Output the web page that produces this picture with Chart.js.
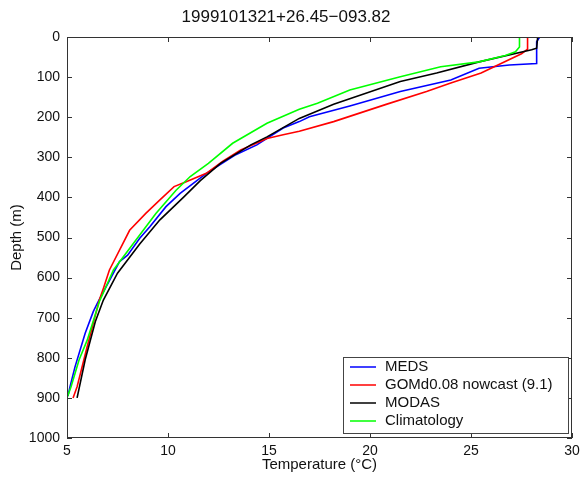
<!DOCTYPE html>
<html>
<head>
<meta charset="utf-8">
<script src="https://cdn.jsdelivr.net/npm/chart.js@4.4.1/dist/chart.umd.min.js"></script>
<style>
  html, body { margin: 0; padding: 0; background: #fff; }
  canvas { display: block; }
</style>
</head>
<body>
<canvas id="c" width="585" height="481"></canvas>
<script>
// ---- Data (temperature °C vs depth m) ----
const chartTitle = '1999101321+26.45\u2212093.82';
const seriesNames = ['MEDS', 'GOMd0.08 nowcast (9.1)', 'MODAS', 'Climatology'];
const seriesColors = ['#0000ff', '#ff0000', '#000000', '#00ff00'];

const medsTemp  = [28.4, 28.25, 28.25, 26.9, 25.4, 24.0, 21.5, 19.0, 17.0, 16.5, 15.7, 14.4, 13.3, 11.9, 10.6, 9.9, 9.1, 8.6, 8.0, 7.6, 6.5, 6.3, 5.9, 5.4, 5.15, 5.05];
const medsDepth = [0,    12,    66,    70,   78,   107,  136,  172,  199,  211,  227,  269,  295,  340,  390,  423, 473, 502, 544, 560, 664, 685, 739, 822, 872,  895];

const gomTemp  = [27.8, 27.8, 27.5, 25.5, 24.0, 22.8, 20.8, 18.2, 16.5, 15.7, 14.9, 13.6, 12.7, 11.9, 10.9, 10.3, 9.6, 8.9, 8.1, 7.1, 6.8, 6.6, 6.0, 5.5, 5.3];
const gomDepth = [0,    30,   42,   90,   115,  136,  168,  211,  235,  244,  253,  282,  310,  340,  361,  373,  406, 440, 482, 581, 627, 656, 772, 872, 900];

const modasTemp  = [28.3, 28.25, 28.0, 25.4, 23.3, 21.5, 18.2, 16.5, 14.9, 14.1, 12.6, 11.6, 10.8, 9.6, 8.6, 7.5, 6.8, 6.4, 5.9, 5.5];
const modasDepth = [0,    28,    32,   62,   90,   111,  168,  203,  249,  269,  315,  358,  398,  456, 516, 589, 656, 710, 805, 900];

const climTemp  = [27.4, 27.4, 27.2, 26.7, 25.4, 23.5, 21.5, 19.0, 17.4, 16.5, 14.9, 13.2, 12.0, 11.1, 10.4, 9.4, 8.6, 7.3, 6.6, 6.0, 5.6, 5.2, 5.0];
const climDepth = [0,    25,   37,   46,   62,   74,   99,   132,  165,  180,  215,  265,  315,  348,  382,  440, 494, 581, 660, 756, 805, 872, 900];

const xTicks = [5, 10, 15, 20, 25, 30];
const yTicks = [0, 100, 200, 300, 400, 500, 600, 700, 800, 900, 1000];
const xLabel = 'Temperature (\u00B0C)';
const yLabel = 'Depth (m)';

function toPoints(t, d) { return t.map((v, i) => ({ x: v, y: d[i] })); }
const allTemps = [medsTemp, gomTemp, modasTemp, climTemp];
const allDepths = [medsDepth, gomDepth, modasDepth, climDepth];

const FONT = "'Liberation Sans', Arial, Helvetica, sans-serif";

const boxPlugin = {
  id: 'matlabBox',
  afterDatasetsDraw(chart) {
    const { ctx, chartArea: a, scales: { x, y } } = chart;
    ctx.save();
    ctx.strokeStyle = '#333';
    ctx.lineWidth = 1;
    ctx.strokeRect(Math.round(a.left) + 0.5, Math.round(a.top) + 0.5,
                   Math.round(a.right - a.left) - 1, Math.round(a.bottom - a.top) - 1);
    const tl = 5;
    ctx.beginPath();
    xTicks.forEach(v => {
      const px = Math.round(x.getPixelForValue(v)) + 0.5;
      ctx.moveTo(px, a.bottom); ctx.lineTo(px, a.bottom - tl);
      ctx.moveTo(px, a.top); ctx.lineTo(px, a.top + tl);
    });
    yTicks.forEach(v => {
      const py = Math.round(y.getPixelForValue(v)) + 0.5;
      ctx.moveTo(a.left, py); ctx.lineTo(a.left + tl, py);
      ctx.moveTo(a.right, py); ctx.lineTo(a.right - tl, py);
    });
    ctx.stroke();

    // Legend box (inside plot, lower right)
    const lw = 225, lh = 76;
    const lx = Math.round(a.right - 4 - lw), ly = Math.round(a.bottom - 5 - lh);
    ctx.fillStyle = '#fff';
    ctx.fillRect(lx, ly, lw, lh);
    ctx.strokeStyle = '#444';
    ctx.strokeRect(lx + 0.5, ly + 0.5, lw, lh);
    ctx.font = '15px ' + FONT;
    ctx.textBaseline = 'middle';
    ctx.textAlign = 'left';
    seriesNames.forEach((name, i) => {
      const cy = ly + 10 + i * 18;
      ctx.strokeStyle = seriesColors[i];
      ctx.lineWidth = 1.5;
      ctx.beginPath();
      ctx.moveTo(lx + 7, cy); ctx.lineTo(lx + 33, cy);
      ctx.stroke();
      ctx.fillStyle = '#111';
      ctx.fillText(name, lx + 42, cy);
    });
    ctx.restore();
  }
};

const datasets = seriesNames.map((name, i) => ({
  label: name,
  data: toPoints(allTemps[i], allDepths[i]),
  borderColor: seriesColors[i],
  backgroundColor: seriesColors[i],
  borderWidth: 1.6,
  showLine: true,
  pointRadius: 0,
  tension: 0,
  order: 4 - i
}));

new Chart(document.getElementById('c'), {
  type: 'scatter',
  data: { datasets },
  options: {
    responsive: false,
    animation: false,
    devicePixelRatio: 1,
    layout: { padding: { left: 0, right: 13, top: 0, bottom: 0 } },
    plugins: {
      legend: { display: false },
      tooltip: { enabled: false },
      title: {
        display: true,
        text: chartTitle,
        color: '#111',
        font: { family: FONT, size: 17, weight: 'normal' },
        padding: { top: 7, bottom: 9.6 }
      }
    },
    scales: {
      x: {
        type: 'linear',
        min: 5, max: 30,
        afterBuildTicks: s => { s.ticks = xTicks.map(v => ({ value: v })); },
        afterFit: s => { s.height = 43; },
        grid: { display: false, drawTicks: false, tickLength: 0 },
        border: { display: false },
        ticks: { color: '#111', font: { family: FONT, size: 14 }, padding: 5, maxRotation: 0,
                 callback: v => String(v) },
        title: { display: true, text: xLabel, color: '#111', font: { family: FONT, size: 15 }, padding: { top: 0, bottom: 7 } }
      },
      y: {
        type: 'linear',
        reverse: true,
        min: 0, max: 1000,
        afterBuildTicks: s => { s.ticks = yTicks.map(v => ({ value: v })); },
        afterFit: s => { s.width = 67; },
        grid: { display: false, drawTicks: false, tickLength: 0 },
        border: { display: false },
        ticks: { color: '#111', font: { family: FONT, size: 14 }, padding: 7,
                 callback: v => String(v) },
        title: { display: true, text: yLabel, color: '#111', font: { family: FONT, size: 15 }, padding: { top: 8, bottom: 0 } }
      }
    }
  },
  plugins: [boxPlugin]
});
</script>
</body>
</html>
